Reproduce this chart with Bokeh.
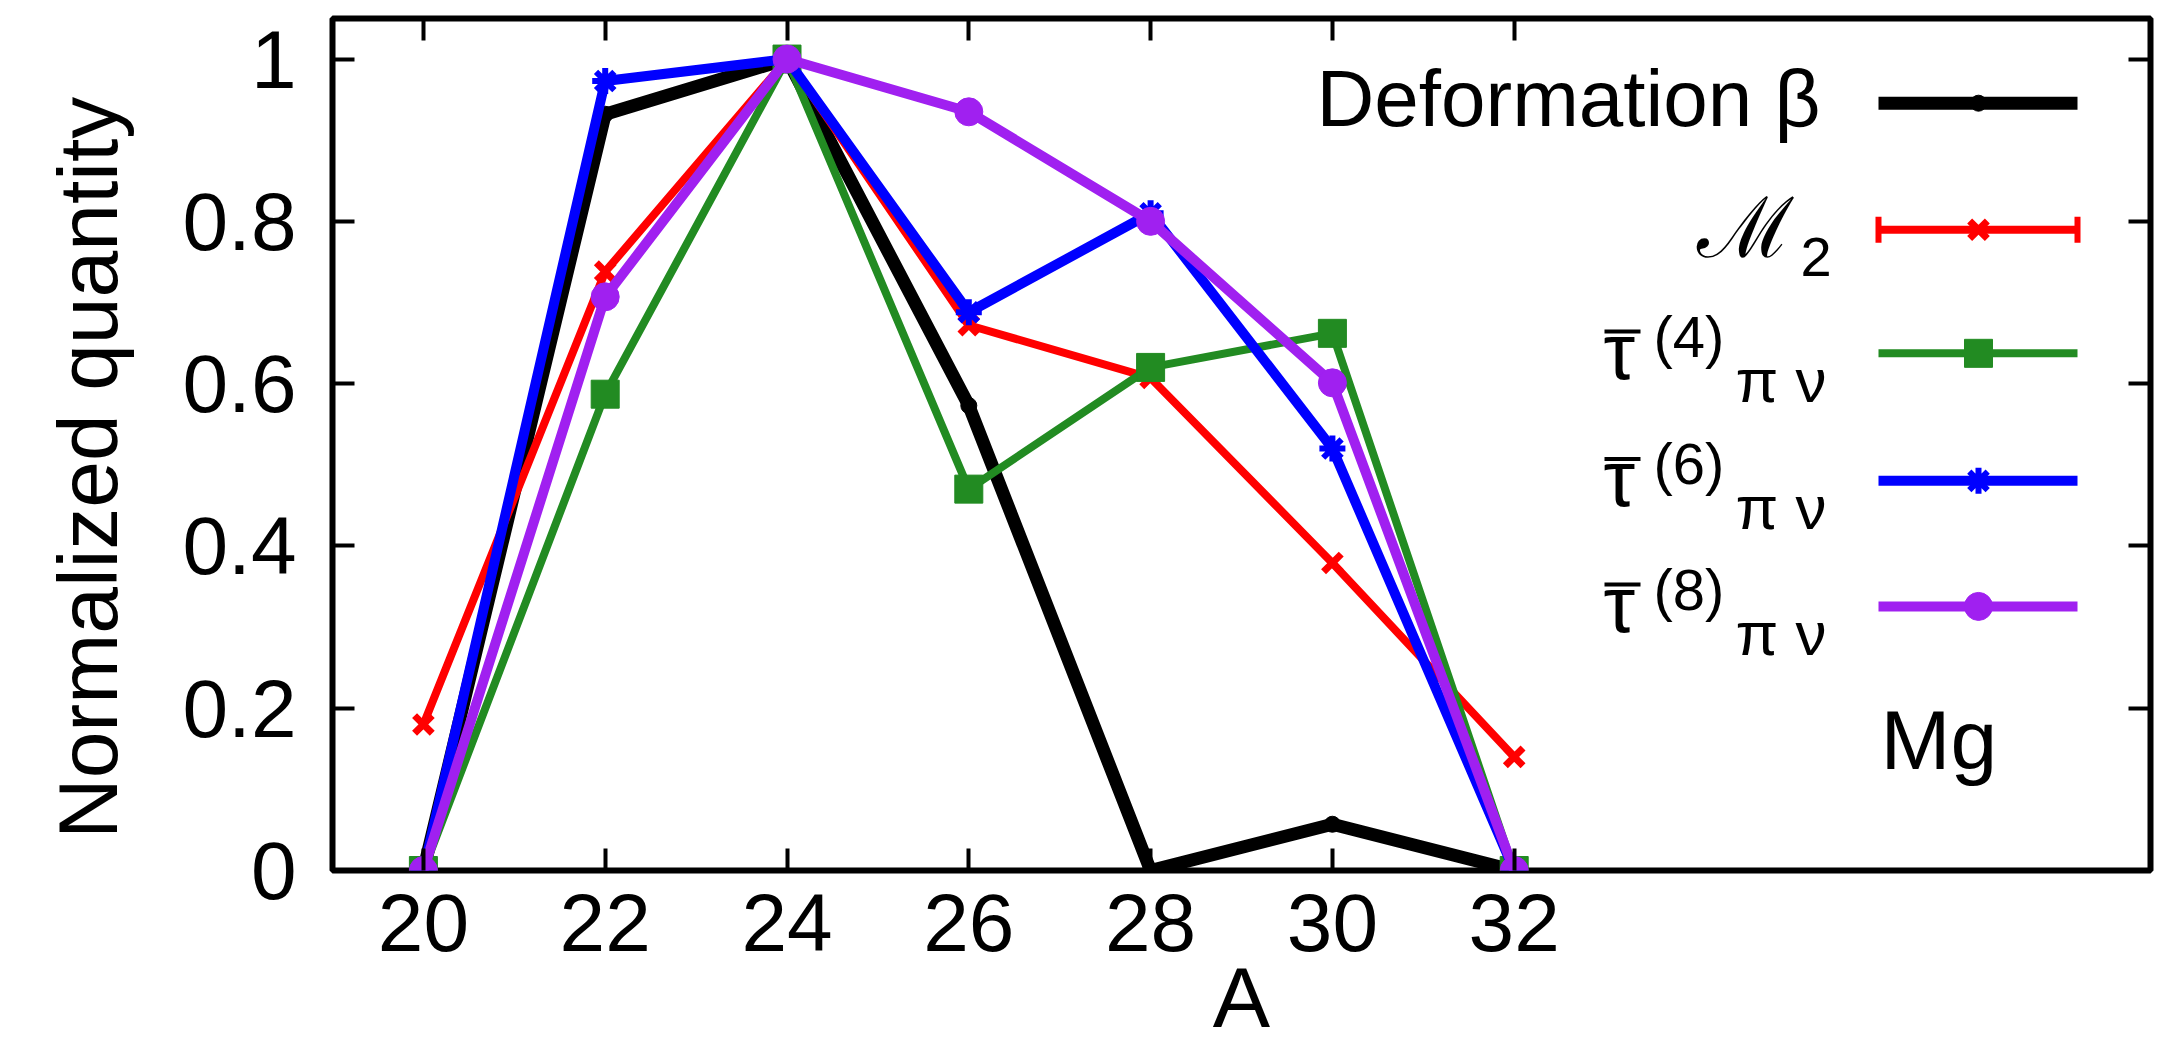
from bokeh.plotting import figure
from bokeh.models import Range1d, FixedTicker, LinearAxis, CustomJSTickFormatter
from bokeh.core.properties import value
from bokeh.embed import file_html
from bokeh.resources import INLINE

# ---------------- data ----------------
A = [20, 22, 24, 26, 28, 30, 32]
deformation_beta = [0.0, 0.932, 1.0, 0.573, 0.0, 0.057, 0.0]
m2 = [0.18, 0.738, 1.0, 0.672, 0.607, 0.379, 0.14]
tau4 = [0.0, 0.587, 1.0, 0.47, 0.62, 0.662, 0.0]
tau6 = [0.0, 0.973, 1.0, 0.688, 0.81, 0.52, 0.0]
tau8 = [0.0, 0.707, 1.0, 0.935, 0.80, 0.601, 0.0]
x_ticks = [20, 22, 24, 26, 28, 30, 32]
y_ticks = [0, 0.2, 0.4, 0.6, 0.8, 1.0]
x_label = "A"
y_label = "Normalized quantity"
legend_names = ["Deformation \u03b2", "\u2133", "(4)", "(6)", "(8)"]
annotation = "Mg"

FONT = "Liberation Sans"
X0, X1 = 19, 39
Y0, Y1 = 0, 1.05

p = figure(width=2173, height=1047, output_backend="svg", toolbar_location=None,
           x_range=Range1d(X0, X1), y_range=Range1d(Y0, Y1),
           min_border_left=332, min_border_right=23, min_border_top=18, min_border_bottom=174,
           background_fill_color="white", border_fill_color="white")
p.xgrid.visible = False
p.ygrid.visible = False
p.outline_line_color = "black"
p.outline_line_width = 6
p.outline_line_alpha = 1.0

def style_axis(ax, labels=True):
    ax.axis_line_color = None
    ax.major_tick_in = 22
    ax.major_tick_out = 0
    ax.major_tick_line_width = 4
    ax.major_tick_line_color = "black"
    ax.minor_tick_line_color = None
    ax.major_label_text_font = FONT
    ax.major_label_text_color = "black"
    if labels:
        ax.major_label_text_font_size = "82px"
    else:
        ax.formatter = CustomJSTickFormatter(code="return '';")
        ax.major_label_text_font_size = "1px"
        ax.major_label_standoff = 0

xaxis = p.xaxis[0]
yaxis = p.yaxis[0]
xaxis.ticker = FixedTicker(ticks=x_ticks)
yaxis.ticker = FixedTicker(ticks=y_ticks)
yaxis.formatter = CustomJSTickFormatter(code="return String(Math.round(tick*10)/10);")
style_axis(xaxis)
style_axis(yaxis)
xaxis.major_label_standoff = 23
yaxis.major_label_standoff = 36
for ax, lab, sd, fs in ((yaxis, y_label + "\u00a0\u00a0", 45, "84px"), (xaxis, x_label, -5, "86px")):
    ax.axis_label = lab
    ax.axis_label_text_font = FONT
    ax.axis_label_text_font_size = fs
    ax.axis_label_text_font_style = "normal"
    ax.axis_label_text_color = "black"
    ax.axis_label_standoff = sd

top = LinearAxis(ticker=FixedTicker(ticks=x_ticks))
style_axis(top, labels=False)
p.add_layout(top, "above")
right = LinearAxis(ticker=FixedTicker(ticks=y_ticks))
style_axis(right, labels=False)
p.add_layout(right, "right")

# ---------------- series ----------------
C_BETA, C_M2, C_T4, C_T6, C_T8 = "black", "#ff0000", "#228b22", "#0000ff", "#a020f0"
W_BETA, W_M2, W_T4, W_T6, W_T8 = 13, 8, 8, 10, 10

p.line(A, deformation_beta, line_color=C_BETA, line_width=W_BETA)
p.scatter(A, deformation_beta, marker="circle", size=16, color=C_BETA)

p.line(A, m2, line_color=C_M2, line_width=W_M2)
p.scatter(A, m2, marker="x", size=25, line_color=C_M2, line_width=7)

p.line(A, tau4, line_color=C_T4, line_width=W_T4)
p.scatter(A, tau4, marker="square", size=28, color=C_T4)

p.line(A, tau6, line_color=C_T6, line_width=W_T6)
p.scatter(A, tau6, marker="asterisk", size=26, line_color=C_T6, line_width=6)

p.line(A, tau8, line_color=C_T8, line_width=W_T8)
p.scatter(A, tau8, marker="circle", size=28, color=C_T8)

# ---------------- layout helpers (reference pixel -> plot coordinates) ----------------
FL, FR, FT, FB = 332, 2150, 18, 873
def dx(px):
    return X0 + (px - FL) * (X1 - X0) / (FR - FL)
def dy(py):
    return Y0 + (FB - py) * (Y1 - Y0) / (FB - FT)

def txt(s, px, py, size, align="left"):
    # py = vertical centre of the text
    p.text(x=[dx(px)], y=[dy(py)], text=[s], text_font=value(FONT), text_font_size=value(size),
           text_align=align, text_baseline="middle", text_color="black")

# ---------------- legend ----------------
rows = [103, 230, 354, 482, 608]
LX0, LX1, LXM = 1878, 2077, 1978
for r, c, w in zip(rows, [C_BETA, C_M2, C_T4, C_T6, C_T8], [W_BETA, W_M2, W_T4, W_T6, W_T8]):
    p.line([dx(LX0), dx(LX1)], [dy(r), dy(r)], line_color=c, line_width=w)
p.scatter([dx(LXM)], [dy(rows[0])], marker="circle", size=16, color=C_BETA)
p.scatter([dx(LXM)], [dy(rows[1])], marker="x", size=25, line_color=C_M2, line_width=7)
p.segment([dx(LX0), dx(LX1)], [dy(rows[1] - 13)] * 2, [dx(LX0), dx(LX1)], [dy(rows[1] + 13)] * 2,
          line_color=C_M2, line_width=6)
p.scatter([dx(LXM)], [dy(rows[2])], marker="square", size=28, color=C_T4)
p.scatter([dx(LXM)], [dy(rows[3])], marker="asterisk", size=26, line_color=C_T6, line_width=6)
p.scatter([dx(LXM)], [dy(rows[4])], marker="circle", size=28, color=C_T8)

txt(legend_names[0], 1820, rows[0] - 5, "80px", align="right")
txt(legend_names[1], 1793, rows[1] - 2, "84px", align="right")
txt("2", 1800, rows[1] + 27, "56px")
for r, sup in zip(rows[2:], legend_names[2:]):
    txt("\u03c4", 1603, r - 2, "80px")
    p.segment([dx(1604)], [dy(r - 22)], [dx(1640)], [dy(r - 22)], line_color="black", line_width=4)
    txt(sup, 1653, r - 17, "58px")
    txt("\u03c0 \u03bd", 1826, r + 27, "62px", align="right")

txt(annotation, 1880, 742, "84px")

open("out.html", "w").write(file_html(p, INLINE))
